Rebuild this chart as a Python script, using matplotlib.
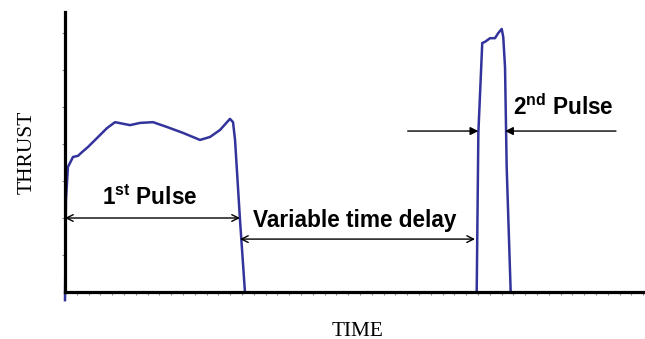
import matplotlib.pyplot as plt
import numpy as np

plt.rcParams["font.family"] = "Liberation Sans"
plt.rcParams["mathtext.fontset"] = "custom"
plt.rcParams["mathtext.rm"] = "Liberation Sans"
plt.rcParams["mathtext.bf"] = "Liberation Sans:bold"

# thrust trace, first pulse
t1 = [0.0, 0.08, 0.25, 0.68, 1.10, 1.44, 1.95, 2.71, 3.56, 4.24, 5.51, 6.36,
      7.46, 8.64, 10.0, 11.44, 12.29, 13.14, 13.98, 14.24, 14.41, 14.83, 15.25]
f1 = [-0.22, 2.49, 3.38, 3.65, 3.68, 3.78, 3.92, 4.16, 4.43, 4.59, 4.51, 4.57,
      4.59, 4.46, 4.30, 4.11, 4.19, 4.38, 4.68, 4.59, 4.11, 1.95, 0.0]
# second pulse
t2 = [34.89, 35.03, 35.36, 35.59, 36.02, 36.44, 36.72, 37.01, 37.14, 37.29, 37.43, 37.77]
f2 = [0.0, 4.30, 6.73, 6.76, 6.86, 6.86, 7.00, 7.11, 6.89, 6.08, 3.38, 0.0]

x_ticks = np.arange(0, 50)
y_ticks = [1, 2, 3, 4, 5, 6, 7]

fig = plt.figure(figsize=(6.45, 3.39), dpi=100)
ax = fig.add_axes([65 / 645, 47 / 339, 580 / 645, 280 / 339])

blue = "#33339c"
ax.plot(t1, f1, color=blue, lw=1.8, clip_on=False, zorder=2)
ax.plot([15.25, 34.89], [0, 0], color=blue, lw=1.8, zorder=2)
ax.plot(t2, f2, color=blue, lw=1.8, clip_on=False, zorder=2)

ax.set_xlim(0, 580 / 11.8)
ax.set_ylim(0, 280 / 37)
for s in ["top", "right"]:
    ax.spines[s].set_visible(False)
for s in ["left", "bottom"]:
    ax.spines[s].set_linewidth(2.3)
    ax.spines[s].set_zorder(3)
ax.set_xticks(x_ticks)
ax.set_yticks(y_ticks)
ax.set_xticklabels([])
ax.set_yticklabels([])
ax.tick_params(axis="both", direction="out", length=2.5, width=0.8, color="#888888")

# pulse duration and delay markers
open_arrow = dict(arrowstyle="<->", color="black", lw=1.0, shrinkA=0, shrinkB=0,
                  mutation_scale=12)
ax.annotate("", xy=(0, 2.0), xytext=(14.83, 2.0), arrowprops=open_arrow)
ax.annotate("", xy=(14.83, 1.43), xytext=(34.75, 1.43), arrowprops=open_arrow)

solid_arrow = dict(arrowstyle="-|>", color="black", lw=1.0, shrinkA=0, shrinkB=0,
                   mutation_scale=12)
ax.annotate("", xy=(35.03, 4.35), xytext=(29.04, 4.35), arrowprops=solid_arrow)
ax.annotate("", xy=(37.29, 4.35), xytext=(46.69, 4.35), arrowprops=solid_arrow)

lbl = dict(fontsize=16.3, fontweight="bold", ha="left", va="baseline")
ax.text(3.14, 2.35, r"1$^{\mathbf{st}}$ Pulse", **lbl)
ax.text(15.93, 1.76, "Variable time delay", **lbl)
ax.text(37.94, 4.78, r"2$^{\mathbf{nd}}$ Pulse", **lbl)

fig.text(27 / 645, 1 - 152 / 339, "THRUST", family="Liberation Serif", fontsize=15.5,
         rotation=90, ha="center", va="center")
fig.text(358 / 645, 1 - 331 / 339, "TIME", family="Liberation Serif", fontsize=15.3,
         ha="center", va="center")

fig.savefig("out.png", dpi=100)
